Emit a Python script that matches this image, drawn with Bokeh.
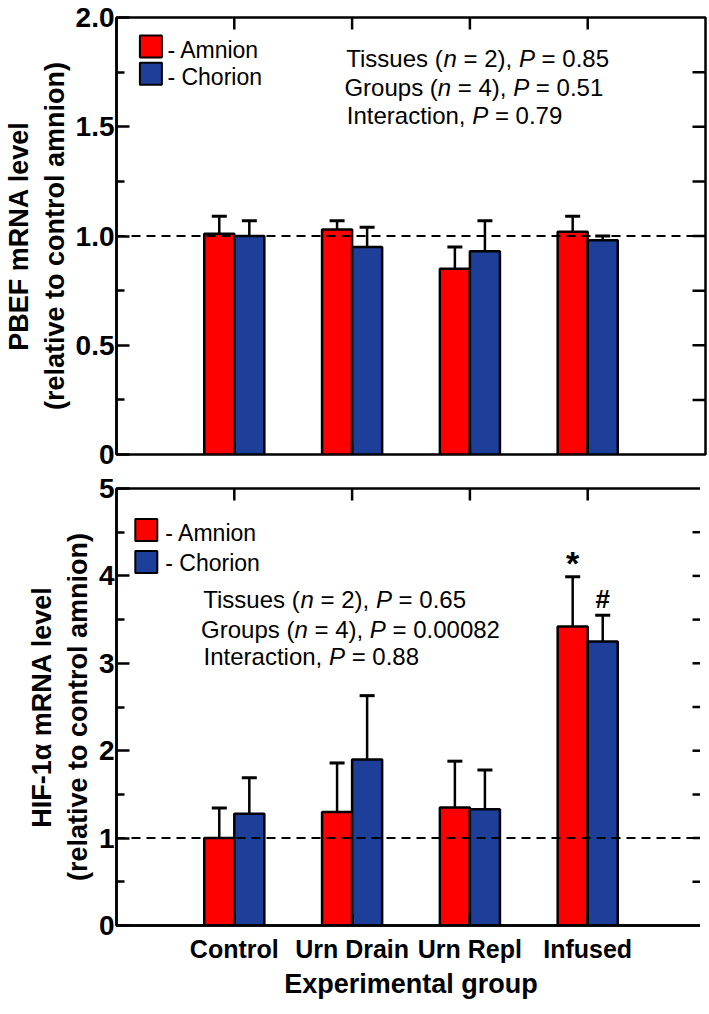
from bokeh.plotting import figure
from bokeh.models import (Range1d, FixedTicker, CustomJSTickFormatter,
                          Span, Whisker, TeeHead, ColumnDataSource)
from bokeh.layouts import column
from bokeh.embed import file_html
from bokeh.resources import INLINE
from bokeh.core.properties import value

# ---------------- data ----------------
groups = ["Control", "Urn Drain", "Urn Repl", "Infused"]
tissues = ["Amnion", "Chorion"]

pbef_amnion = [1.01, 1.03, 0.85, 1.02]
pbef_amnion_err = [0.08, 0.04, 0.10, 0.07]
pbef_chorion = [1.00, 0.95, 0.93, 0.98]
pbef_chorion_err = [0.07, 0.09, 0.14, 0.02]

hif_amnion = [1.00, 1.30, 1.35, 3.42]
hif_amnion_err = [0.345, 0.56, 0.53, 0.57]
hif_chorion = [1.28, 1.90, 1.33, 3.25]
hif_chorion_err = [0.41, 0.73, 0.45, 0.30]

hif_amnion_marks = ["", "", "", "*"]
hif_chorion_marks = ["", "", "", "#"]

pbef_stats = [("Tissues", "2", "0.85"), ("Groups", "4", "0.51"), ("Interaction", None, "0.79")]
hif_stats = [("Tissues", "2", "0.65"), ("Groups", "4", "0.00082"), ("Interaction", None, "0.88")]

pbef_major = [0, 0.5, 1.0, 1.5, 2.0]
pbef_minor = [0.25, 0.75, 1.25, 1.75]
pbef_right = [0.25, 0.5, 0.75, 1.0, 1.25, 1.5, 1.75]
hif_major = [0, 1, 2, 3, 4, 5]
hif_minor = [0.5, 1.5, 2.5, 3.5, 4.5]
hif_right = [0.5, 1.0, 1.5, 2.0, 2.5, 3.0, 3.5, 4.0, 4.5]

pbef_label = "PBEF mRNA level\n(relative to control amnion)"
hif_label = "HIF-1\u03b1 mRNA level\n(relative to control amnion)"
x_title = "Experimental group"

# ---------------- style ----------------
RED = "#FF0000"
BLUE = "#1E3F99"
FONT = "Liberation Sans"
FRAME_W, FRAME_H = 589, 437
BAR_W = 0.255
LW = 2.5

ARIAL = {' ': 278, '(': 333, ')': 333, ',': 278, '.': 278, '=': 584, '-': 333,
         'A': 667, 'C': 722, 'G': 778, 'I': 278, 'P': 667, 'T': 611,
         'a': 556, 'c': 500, 'e': 556, 'h': 556, 'i': 222, 'm': 833, 'n': 556,
         'o': 556, 'p': 556, 'r': 333, 's': 500, 't': 278, 'u': 556}


def text_px(s, size):
    return sum(ARIAL.get(c, 556) for c in s) * size / 1000.0


def add_stats(p, lines, xs, ys, size=24):
    parts = {"normal": dict(x=[], y=[], text=[], dx=[]),
             "italic": dict(x=[], y=[], text=[], dx=[])}
    for (name, n, pval), x0, y0 in zip(lines, xs, ys):
        if n is None:
            segs = [(name + ", ", "normal"), ("P", "italic"), (" = " + pval, "normal")]
        else:
            segs = [(name + " (", "normal"), ("n", "italic"), (" = " + n + "), ", "normal"),
                    ("P", "italic"), (" = " + pval, "normal")]
        off = 0.0
        for s, style in segs:
            lead = len(s) - len(s.lstrip(" "))
            d = parts[style]
            d["x"].append(x0)
            d["y"].append(y0)
            d["text"].append(s.strip(" "))
            d["dx"].append(off + text_px(" " * lead, size))
            off += text_px(s, size)
    for style, d in parts.items():
        p.text(x="x", y="y", text="text", x_offset="dx", source=ColumnDataSource(d),
               text_font=value(FONT), text_font_size=f"{size}px", text_font_style=style,
               text_align="left", text_baseline="middle", text_color="black")


def add_legend(p, xs, ys, text_dx, text_dys, size=23):
    colors = [RED, BLUE]
    p.rect(x=xs, y=ys, width=22, height=22, width_units="screen", height_units="screen",
           fill_color=colors, line_color="black", line_width=2)
    p.text(x=xs, y=ys, text=["- " + t for t in tissues], x_offset=text_dx, y_offset=text_dys,
           text_font=value(FONT), text_font_size=f"{size}px", text_align="left",
           text_baseline="middle", text_color="black")


def make_panel(ymax, major, minor, right_ticks, amn, amn_err, cho, cho_err, ylabel,
               show_x, top_border, bottom_border):
    p = figure(frame_width=FRAME_W, frame_height=FRAME_H,
               x_range=Range1d(0, 5), y_range=Range1d(0, ymax),
               output_backend="svg", toolbar_location=None,
               min_border_left=108, min_border_right=3,
               min_border_top=top_border, min_border_bottom=bottom_border)
    p.background_fill_color = "white"
    p.border_fill_color = "white"
    p.outline_line_color = "black"
    p.outline_line_width = LW
    p.xgrid.visible = False
    p.ygrid.visible = False

    xpos = [i + 1 for i in range(len(groups))]

    # inward tick marks on the right and top edges
    p.ray(x=5, y=right_ticks, length=13, length_units="screen", angle=180,
          angle_units="deg", line_color="black", line_width=LW)
    p.ray(x=xpos, y=ymax, length=12, length_units="screen", angle=-90,
          angle_units="deg", line_color="black", line_width=LW)

    for vals, errs, col, sgn in [(amn, amn_err, RED, -1), (cho, cho_err, BLUE, 1)]:
        src = ColumnDataSource(dict(x=[v + sgn * BAR_W / 2 for v in xpos], top=vals,
                                    upper=[v + e for v, e in zip(vals, errs)], group=groups))
        p.vbar(x="x", top="top", bottom=0, width=BAR_W, source=src,
               fill_color=col, line_color="black", line_width=LW)
        p.add_layout(Whisker(source=src, base="x", lower="top", upper="upper",
                             line_color="black", line_width=LW,
                             upper_head=TeeHead(size=15, line_color="black", line_width=3),
                             lower_head=None))

    p.add_layout(Span(location=1, dimension="width", line_color="black",
                      line_width=2, line_dash="9 6"))

    # left axis
    ya = p.yaxis[0]
    ya.ticker = FixedTicker(ticks=major, minor_ticks=minor)
    ya.formatter = CustomJSTickFormatter(args=dict(dec=1 if ymax < 3 else 0),
                                         code="return tick === 0 ? '0' : tick.toFixed(dec);")
    ya.major_tick_in = 13
    ya.major_tick_out = 0
    ya.minor_tick_in = 8
    ya.minor_tick_out = 0
    ya.major_tick_line_width = LW
    ya.minor_tick_line_width = LW
    ya.axis_line_width = LW
    ya.major_label_standoff = 2
    ya.major_label_text_font = FONT
    ya.major_label_text_font_style = "bold"
    ya.major_label_text_font_size = "28px"
    ya.major_label_text_color = "black"
    ya.axis_label = ylabel
    ya.axis_label_text_font = FONT
    ya.axis_label_text_font_style = "bold"
    ya.axis_label_text_font_size = "27px"
    ya.axis_label_text_color = "black"
    ya.axis_label_standoff = 3

    if show_x:
        xa = p.xaxis[0]
        xa.ticker = FixedTicker(ticks=xpos, minor_ticks=[])
        xa.formatter = CustomJSTickFormatter(
            args=dict(labels=groups),
            code="const i = Math.round(tick) - 1; return (i >= 0 && i < labels.length) ? labels[i] : '';")
        xa.major_tick_in = 12
        xa.major_tick_out = 0
        xa.minor_tick_in = 0
        xa.minor_tick_out = 0
        xa.major_tick_line_width = LW
        xa.axis_line_width = LW
        xa.major_label_text_font = FONT
        xa.major_label_text_font_style = "bold"
        xa.major_label_text_color = "black"
        xa.major_label_text_font_size = "25px"
        xa.major_label_standoff = 9
        xa.axis_label = x_title
        xa.axis_label_text_font = FONT
        xa.axis_label_text_font_style = "bold"
        xa.axis_label_text_font_size = "27px"
        xa.axis_label_text_color = "black"
        xa.axis_label_standoff = 3
    else:
        p.xaxis.visible = False
        p.ray(x=xpos, y=0, length=12, length_units="screen", angle=90,
              angle_units="deg", line_color="black", line_width=LW)
    return p


# ---------------- top panel ----------------
p1 = make_panel(2.0, pbef_major, pbef_minor, pbef_right,
                pbef_amnion, pbef_amnion_err, pbef_chorion, pbef_chorion_err, pbef_label,
                show_x=False, top_border=17, bottom_border=17)
add_legend(p1, [0.292, 0.292], [1.867, 1.742], 16.5, [3, 3.5])
add_stats(p1, pbef_stats, [1.95, 1.935, 1.955], [1.8135, 1.6787, 1.5528])

# ---------------- bottom panel ----------------
p2 = make_panel(5.0, hif_major, hif_minor, hif_right,
                hif_amnion, hif_amnion_err, hif_chorion, hif_chorion_err, hif_label,
                show_x=True, top_border=17, bottom_border=72)
add_legend(p2, [0.253, 0.253], [4.525, 4.160], 19, [3, 1])
add_stats(p2, hif_stats, [0.736, 0.718, 0.739], [3.726, 3.389, 3.079])

xpos = [i + 1 for i in range(len(groups))]
p2.text(x=[v - BAR_W / 2 for v in xpos], y=[v + e for v, e in zip(hif_amnion, hif_amnion_err)],
        text=hif_amnion_marks, y_offset=-14, text_font=value(FONT), text_font_size="34px",
        text_font_style="bold", text_align="center", text_baseline="middle", text_color="black")
p2.text(x=[v + BAR_W / 2 for v in xpos], y=[v + e for v, e in zip(hif_chorion, hif_chorion_err)],
        text=hif_chorion_marks, y_offset=-16, text_font=value(FONT), text_font_size="26px",
        text_font_style="bold", text_align="center", text_baseline="middle", text_color="black")

layout = column(p1, p2, spacing=0)
open("out.html", "w").write(file_html(layout, INLINE))
